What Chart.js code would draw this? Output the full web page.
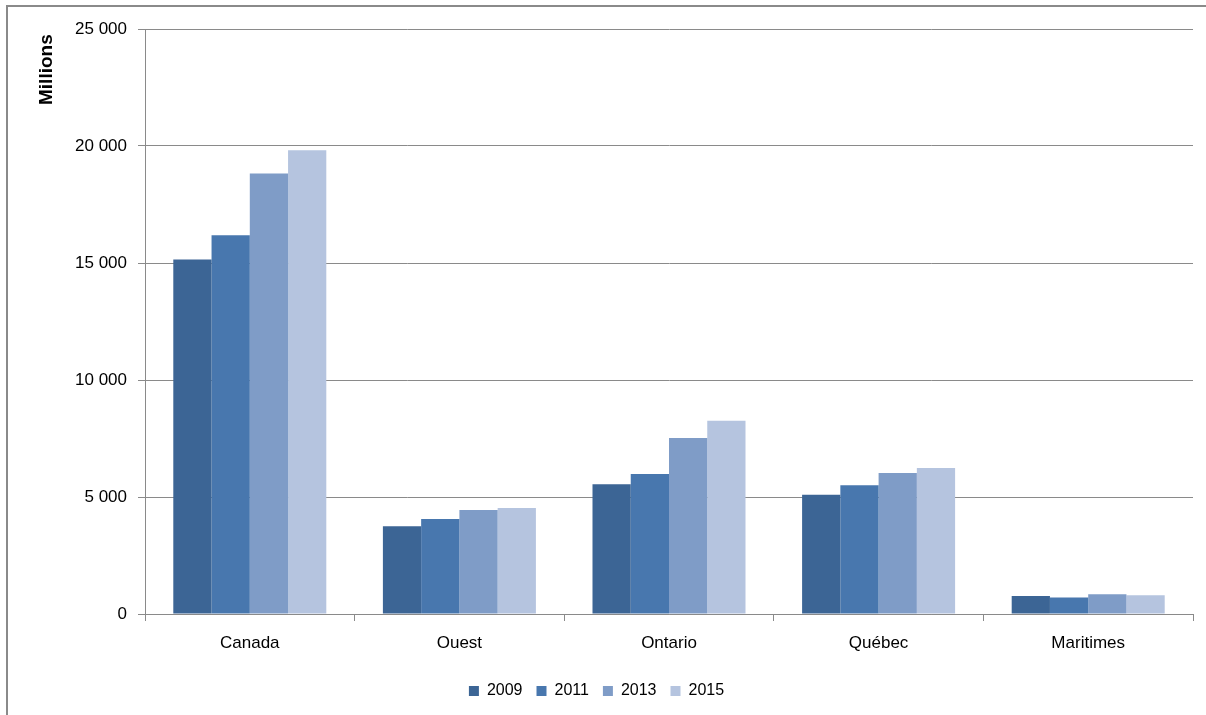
<!DOCTYPE html>
<html>
<head>
<meta charset="utf-8">
<script src="https://cdn.jsdelivr.net/npm/chart.js@4/dist/chart.umd.min.js"></script>
<style>
  html, body { margin: 0; padding: 0; background: #fff; overflow: hidden; }
  #frame {
    position: absolute; left: 6px; top: 5px; width: 1300px; height: 800px;
    border-left: 2px solid #8a8a8a; border-top: 2px solid #8a8a8a;
  }
  #wrap { position: absolute; left: 0; top: 0; width: 1206px; height: 715px; }
</style>
</head>
<body>
<div id="frame"></div>
<div id="wrap"><canvas id="chart"></canvas></div>
<script>
const regions = ['Canada', 'Ouest', 'Ontario', 'Québec', 'Maritimes'];
const years = ['2009', '2011', '2013', '2015'];
const values2009 = [15150, 3750, 5540, 5100, 770];
const values2011 = [16190, 4060, 5980, 5500, 700];
const values2013 = [18820, 4440, 7520, 6025, 845];
const values2015 = [19820, 4530, 8260, 6240, 800];
const colors = ['#3c6595', '#4877ae', '#7f9cc7', '#b5c4df'];

const yMax = 25000;
const yStep = 5000;

const fontFamily = '"Liberation Sans", Arial, sans-serif';
const gridColor = '#8a8a8a';

// espace comme séparateur de milliers
const formatNumber = (v) => v.toString().replace(/\B(?=(\d{3})+(?!\d))/g, ' ');

const series = [values2009, values2011, values2013, values2015];

const ctx = document.getElementById('chart').getContext('2d');
const chart = new Chart(ctx, {
    type: 'bar',
    data: {
        labels: regions,
        datasets: years.map((year, i) => ({
            label: year,
            data: series[i],
            backgroundColor: colors[i],
            borderWidth: 0,
            barPercentage: 1,
            categoryPercentage: 0.73
        }))
    },
    options: {
        responsive: true,
        maintainAspectRatio: false,
        animation: false,
        layout: {
            padding: { top: 29, right: 13, bottom: 6, left: 0 }
        },
        plugins: {
            legend: {
                display: true,
                position: 'bottom',
                labels: {
                    boxWidth: 10,
                    boxHeight: 10,
                    padding: 14,
                    color: '#000',
                    font: { family: fontFamily, size: 16 }
                }
            },
            tooltip: { enabled: false }
        },
        scales: {
            x: {
                grid: {
                    display: true,
                    offset: true,
                    drawOnChartArea: false,
                    drawTicks: true,
                    tickLength: 7,
                    color: gridColor
                },
                border: { display: true, color: gridColor, width: 1 },
                ticks: {
                    color: '#000',
                    padding: 12,
                    font: { family: fontFamily, size: 17 }
                },
                afterFit: (scale) => { scale.height = 55; }
            },
            y: {
                min: 0,
                max: yMax,
                ticks: {
                    stepSize: yStep,
                    color: '#000',
                    padding: 11,
                    font: { family: fontFamily, size: 17 },
                    callback: (v) => formatNumber(v)
                },
                grid: {
                    color: gridColor,
                    tickLength: 7,
                    lineWidth: 1
                },
                border: { display: true, color: gridColor, width: 1 },
                title: {
                    display: true,
                    text: 'Millions ',
                    align: 'end',
                    color: '#000',
                    padding: { top: 35, bottom: 0 },
                    font: { family: fontFamily, size: 19, weight: 'bold' }
                },
                afterFit: (scale) => { scale.width = 145; }
            }
        }
    }
});
</script>
</body>
</html>
